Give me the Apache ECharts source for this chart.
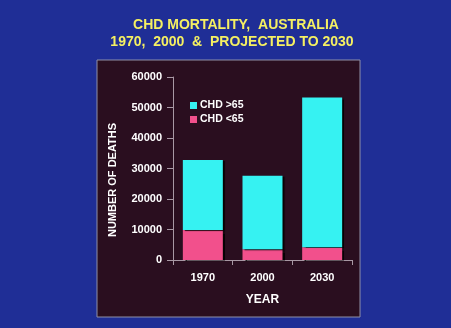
<!DOCTYPE html>
<html>
<head>
<meta charset="utf-8">
<script src="https://cdn.jsdelivr.net/npm/echarts@6/dist/echarts.min.js"></script>
<style>
  html, body { margin: 0; padding: 0; background: #1f2e96; }
  #chart { width: 451px; height: 328px; }
</style>
</head>
<body>
<div id="chart"></div>
<script>
// CHD deaths in Australia by age group
const years = ['1970', '2000', '2030'];
const under65 = [9800, 3500, 4200];
const over65 = [23000, 24100, 49100];
const yTicks = [0, 10000, 20000, 30000, 40000, 50000, 60000];
const titleLines = ['CHD MORTALITY,  AUSTRALIA', '1970,  2000  &  PROJECTED TO 2030'];

const chart = echarts.init(document.getElementById('chart'), null, { renderer: 'canvas' });

const fontFamily = '"Liberation Sans", Arial, sans-serif';
const barShadow = { shadowColor: 'rgba(0,0,0,0.85)', shadowOffsetX: 2, shadowOffsetY: 1, shadowBlur: 1 };
const labelStyle = { color: '#ffffff', fontSize: 11, fontWeight: 'bold', fontFamily: fontFamily };

chart.setOption({
  backgroundColor: '#1f2e96',
  animation: false,
  graphic: [
    {
      type: 'rect',
      z: -10,
      shape: { x: 97, y: 60, width: 263, height: 257 },
      style: { fill: '#2a0e1f', stroke: '#8f90a8', lineWidth: 1 }
    },
    {
      type: 'text',
      x: 236,
      y: 25,
      style: {
        text: titleLines[0],
        fill: '#f5f062',
        font: 'bold 14px ' + fontFamily,
        align: 'center',
        verticalAlign: 'middle'
      }
    },
    {
      type: 'text',
      x: 232,
      y: 42,
      style: {
        text: titleLines[1],
        fill: '#f5f062',
        font: 'bold 14px ' + fontFamily,
        align: 'center',
        verticalAlign: 'middle'
      }
    },
    {
      type: 'text',
      x: 113,
      y: 180,
      rotation: Math.PI / 2,
      style: {
        text: 'NUMBER OF DEATHS',
        fill: '#ffffff',
        font: 'bold 11px ' + fontFamily,
        align: 'center',
        verticalAlign: 'middle'
      }
    }
  ],
  legend: {
    orient: 'vertical',
    left: 185,
    top: 95,
    itemWidth: 7,
    itemHeight: 7,
    itemGap: 3,
    icon: 'rect',
    data: ['CHD >65', 'CHD <65'],
    textStyle: { color: '#ffffff', fontSize: 10.5, fontWeight: 'bold', fontFamily: fontFamily, padding: [0, 0, 0, -2] }
  },
  grid: { left: 173, right: 99, top: 77, bottom: 68 },
  xAxis: {
    type: 'category',
    data: years,
    name: 'YEAR',
    nameLocation: 'middle',
    nameGap: 34,
    nameTextStyle: { color: '#ffffff', fontSize: 12, fontWeight: 'bold', fontFamily: fontFamily },
    axisLine: { lineStyle: { color: '#a898a4', width: 1 } },
    axisTick: { show: true, length: 5, lineStyle: { color: '#a898a4' } },
    axisLabel: Object.assign({ margin: 12 }, labelStyle)
  },
  yAxis: {
    type: 'value',
    min: 0,
    max: 60000,
    interval: 10000,
    axisLine: { show: true, lineStyle: { color: '#a898a4', width: 1 } },
    axisTick: { show: true, length: 6, lineStyle: { color: '#a898a4' } },
    splitLine: { show: false },
    axisLabel: Object.assign({
      margin: 11,
      formatter: function (v) { return yTicks.indexOf(v) >= 0 ? String(v) : ''; }
    }, labelStyle)
  },
  series: [
    {
      name: 'CHD <65',
      type: 'bar',
      stack: 'deaths',
      barWidth: 40,
      data: under65,
      itemStyle: Object.assign({ color: '#f2508c' }, barShadow)
    },
    {
      name: 'CHD >65',
      type: 'bar',
      stack: 'deaths',
      barWidth: 40,
      data: over65,
      itemStyle: Object.assign({ color: '#36f2f2' }, barShadow)
    }
  ]
});
</script>
</body>
</html>
